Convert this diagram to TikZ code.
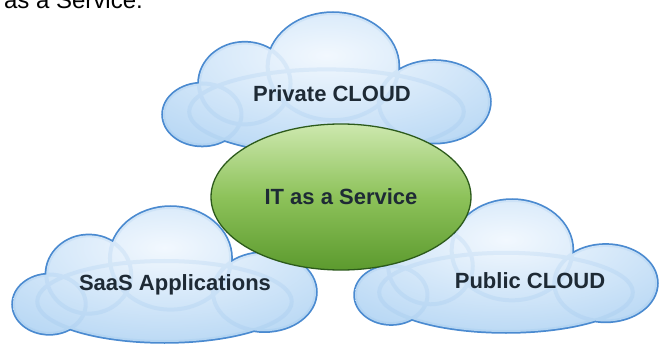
\documentclass[tikz,border=0pt]{standalone}
\usepackage{fontspec}
\setmainfont{Liberation Sans}
\usetikzlibrary{shapes.geometric}
\definecolor{cloudedge}{HTML}{4A8AD0}
\definecolor{cloudrim}{HTML}{7FB3E6}
\definecolor{cloudin}{HTML}{F2F8FE}
\definecolor{cloudout}{HTML}{A5CDF1}
\definecolor{greentop}{HTML}{CDE8AE}
\definecolor{greenmid}{HTML}{8DC25A}
\definecolor{greenbot}{HTML}{5C9A2E}
\definecolor{greenedge}{HTML}{2C5A1B}
\definecolor{labeltext}{HTML}{1E2A35}
\newcommand{\cloudpath}{(0.12,0.28) ellipse [x radius=0.12, y radius=0.22]
 (0.25,0.5) ellipse [x radius=0.14, y radius=0.29]
 (0.52,0.62) ellipse [x radius=0.2, y radius=0.38]
 (0.83,0.37) ellipse [x radius=0.17, y radius=0.29]
 (0.5,0.3) ellipse [x radius=0.42, y radius=0.3]}
\newcommand{\drawcloud}[4]{%
 \begin{scope}[shift={(#1,#2)},xscale=#3,yscale=#4]
  \path[draw=cloudedge,line width=3.5pt] \cloudpath;
  \begin{scope}
   \clip \cloudpath;
   \path[inner color=cloudin,outer color=cloudout] (-0.5,-0.3) rectangle (1.5,1.7);
   \path[draw=cloudrim,line width=4pt,draw opacity=.15] \cloudpath;
  \end{scope}
 \end{scope}}
\tikzset{
 cloudlabel/.style={font=\bfseries\fontsize{22}{26}\selectfont, text=labeltext, anchor=base, inner sep=0pt},
 itellipse/.style={ellipse, draw=greenedge, line width=1.3pt, top color=greentop, bottom color=greenbot, middle color=greenmid,
   minimum width=260pt, minimum height=146pt, inner sep=0pt, font=\bfseries\fontsize{22}{26}\selectfont, text=labeltext}
}
\begin{document}
\begin{tikzpicture}[x=1pt,y=1pt]
\useasboundingbox (0,0) rectangle (661,343);
\clip (0,0) rectangle (661,343);
\fill[white] (0,0) rectangle (661,343);
\node[anchor=base east, font=\fontsize{24}{28}\selectfont, inner sep=0pt] (title) at (143,334) {as a Service.};
\drawcloud{163}{189}{327}{141}
\drawcloud{13}{1}{303}{135}
\drawcloud{355}{11}{302}{132}
\node[cloudlabel] (priv) at (332,241) {Private CLOUD};
\node[cloudlabel] (saas) at (175,53) {SaaS Applications};
\node[cloudlabel] (pub) at (530,55) {Public CLOUD};
\node[itellipse] (it) at (341,146) {IT as a Service};
\end{tikzpicture}
\end{document}
